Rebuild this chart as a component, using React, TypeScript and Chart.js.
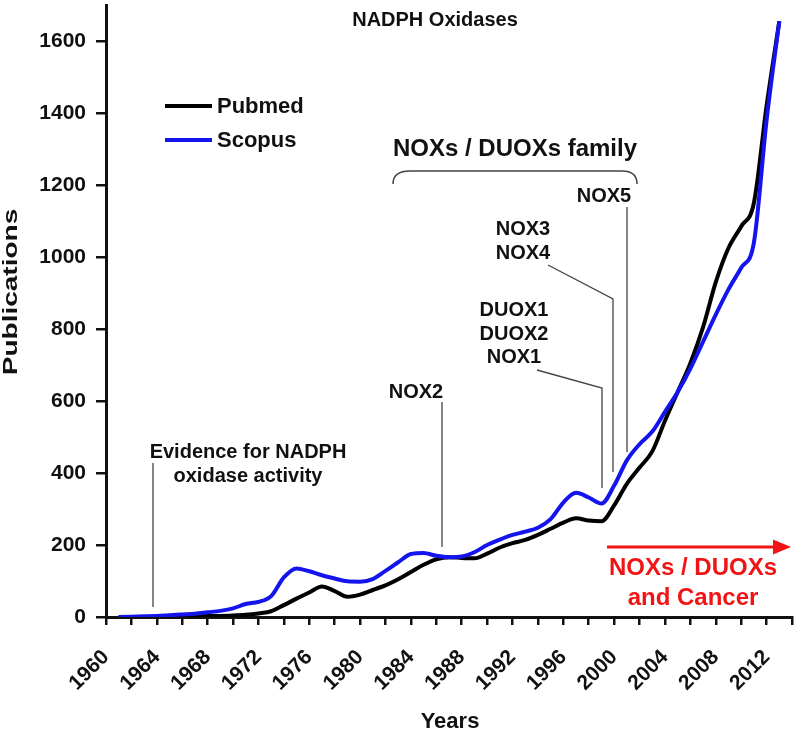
import React, { useEffect, useRef } from 'react';
import { Chart, registerables } from 'chart.js';

Chart.register(...registerables);

// ---- data ----
const years = [
  1961, 1962, 1963, 1964, 1965, 1966, 1967, 1968, 1969, 1970,
  1971, 1972, 1973, 1974, 1975, 1976, 1977, 1978, 1979, 1980,
  1981, 1982, 1983, 1984, 1985, 1986, 1987, 1988, 1989, 1990,
  1991, 1992, 1993, 1994, 1995, 1996, 1997, 1998, 1999, 2000,
  2001, 2002, 2003, 2004, 2005, 2006, 2007, 2008, 2009, 2010,
  2011, 2012, 2013,
];

const pubmed = [
  0, 0, 0, 1, 1, 2, 2, 3, 3, 4,
  6, 10, 16, 33, 51, 68, 85, 72, 56, 62,
  75, 88, 105, 125, 145, 160, 166, 164, 163, 176,
  193, 205, 214, 228, 245, 262, 274, 268, 266, 310,
  370, 415, 460, 545, 625, 705, 805, 930, 1025, 1085,
  1150, 1420, 1655,
];

const scopus = [
  0, 1, 2, 3, 5, 7, 9, 13, 17, 24,
  36, 42, 58, 110, 135, 127, 116, 107, 99, 98,
  105, 128, 152, 175, 178, 170, 166, 168, 180, 200,
  215, 228, 237, 248, 272, 318, 345, 332, 315, 365,
  435, 480, 515, 570, 625, 690, 765, 840, 910, 970,
  1040, 1380, 1655,
];

const xTickValues = [
  1960, 1962, 1964, 1966, 1968, 1970, 1972, 1974, 1976, 1978,
  1980, 1982, 1984, 1986, 1988, 1990, 1992, 1994, 1996, 1998,
  2000, 2002, 2004, 2006, 2008, 2010, 2012, 2014,
];
const xTickLabels = [
  '1960', '1964', '1968', '1972', '1976', '1980', '1984', '1988',
  '1992', '1996', '2000', '2004', '2008', '2012',
];
const yTickValues = [0, 200, 400, 600, 800, 1000, 1200, 1400, 1600];

const seriesNames = ['Pubmed', 'Scopus'];
const seriesColors = ['#000000', '#1414ee'];

const FONT = '"Liberation Sans", Arial, Helvetica, sans-serif';

const overlay = {
  id: 'overlay',
  afterDraw(chart: any) {
    const ctx: CanvasRenderingContext2D = chart.ctx;
    ctx.save();
    const text = (s: string, x: number, y: number, size: number, color = '#111', align: CanvasTextAlign = 'center') => {
      ctx.font = `700 ${size}px ${FONT}`;
      ctx.fillStyle = color;
      ctx.textAlign = align;
      ctx.textBaseline = 'middle';
      ctx.fillText(s, x, y);
    };
    const poly = (pts: number[][], color = '#444', w = 1.3) => {
      ctx.beginPath();
      ctx.strokeStyle = color;
      ctx.lineWidth = w;
      ctx.moveTo(pts[0][0], pts[0][1]);
      for (let i = 1; i < pts.length; i++) ctx.lineTo(pts[i][0], pts[i][1]);
      ctx.stroke();
    };

    // Legend
    seriesNames.forEach((name, i) => {
      const y = 106 + i * 34;
      poly([[165, y], [212, y]], seriesColors[i], 4);
      text(name, 217, y + 1, 22, '#111', 'left');
    });

    // Title
    text('NADPH Oxidases', 435, 20, 20);

    // Axis titles
    ctx.save();
    ctx.translate(17, 292);
    ctx.rotate(-Math.PI / 2);
    ctx.scale(1.4, 1);
    ctx.font = `700 20px ${FONT}`;
    ctx.fillStyle = '#111';
    ctx.textAlign = 'center';
    ctx.textBaseline = 'alphabetic';
    ctx.fillText('Publications', 0, 0);
    ctx.restore();
    text('Years', 450, 722, 22);

    // Family brace
    text('NOXs / DUOXs family', 515, 149, 24);
    ctx.beginPath();
    ctx.strokeStyle = '#444';
    ctx.lineWidth = 1.5;
    ctx.moveTo(393, 184);
    ctx.quadraticCurveTo(393, 171, 410, 171);
    ctx.lineTo(622, 171);
    ctx.quadraticCurveTo(637, 171, 637, 184);
    ctx.stroke();

    // Annotations
    text('NOX5', 604, 196, 20);
    poly([[627, 207], [627, 452]]);
    text('NOX3', 523, 229, 20);
    text('NOX4', 523, 253, 20);
    poly([[548, 265], [613, 299], [613, 472]]);
    text('DUOX1', 514, 310, 20);
    text('DUOX2', 514, 334, 20);
    text('NOX1', 514, 357, 20);
    poly([[537, 370], [602, 388], [602, 488]]);
    text('NOX2', 416, 392, 20);
    poly([[442, 402], [442, 547]]);
    text('Evidence for NADPH', 248, 452, 20);
    text('oxidase activity', 248, 476, 20);
    poly([[153, 463], [153, 607]]);

    // Red arrow
    const red = '#f01414';
    poly([[607, 547], [776, 547]], red, 3);
    ctx.beginPath();
    ctx.fillStyle = red;
    ctx.moveTo(791, 547);
    ctx.lineTo(773, 539.5);
    ctx.lineTo(773, 554.5);
    ctx.closePath();
    ctx.fill();
    text('NOXs / DUOXs', 693, 568, 24, red);
    text('and Cancer', 693, 598, 24, red);

    ctx.restore();
  },
};

export default function App() {
  const canvasRef = useRef<HTMLCanvasElement | null>(null);

  useEffect(() => {
    const canvas = canvasRef.current;
    if (!canvas) return;
    const chart = new Chart(canvas, {
      type: 'line',
      data: {
        datasets: [
          {
            label: seriesNames[0],
            data: years.map((y, i) => ({ x: y, y: pubmed[i] })),
            borderColor: seriesColors[0],
            borderWidth: 4,
            pointRadius: 0,
            cubicInterpolationMode: 'monotone',
            fill: false,
            order: 1,
          },
          {
            label: seriesNames[1],
            data: years.map((y, i) => ({ x: y, y: scopus[i] })),
            borderColor: seriesColors[1],
            borderWidth: 4,
            pointRadius: 0,
            cubicInterpolationMode: 'monotone',
            fill: false,
            order: 0,
          },
        ],
      },
      options: {
        animation: false,
        responsive: false,
        devicePixelRatio: 1,
        layout: { padding: { top: 5, right: 8, left: 0, bottom: 0 } },
        plugins: {
          legend: { display: false },
          title: { display: false },
          tooltip: { enabled: false },
        },
        scales: {
          x: {
            type: 'linear',
            min: 1960,
            max: 2014,
            afterBuildTicks: (scale: any) => {
              scale.ticks = xTickValues.map((v) => ({ value: v }));
            },
            afterFit: (scale: any) => {
              scale.height = 116;
              scale.paddingLeft = 0;
              scale.paddingRight = 0;
            },
            ticks: {
              autoSkip: false,
              minRotation: 45,
              maxRotation: 45,
              padding: 20,
              color: '#111',
              font: { family: FONT, size: 21, weight: 'bold' },
              callback: (v: any) => (xTickLabels.includes(String(v)) ? String(v) : ''),
            },
            grid: {
              drawOnChartArea: false,
              drawTicks: true,
              tickLength: 8,
              color: '#111',
              lineWidth: 2.5,
            },
            border: { display: true, color: '#111', width: 3 },
          },
          y: {
            type: 'linear',
            min: 0,
            max: 1700,
            afterBuildTicks: (scale: any) => {
              scale.ticks = yTickValues.map((v) => ({ value: v }));
            },
            afterFit: (scale: any) => {
              scale.width = 106;
              scale.paddingTop = 0;
              scale.paddingBottom = 0;
            },
            ticks: {
              padding: 10,
              color: '#111',
              font: { family: FONT, size: 21, weight: 'bold' },
              callback: (v: any) => String(v),
            },
            grid: {
              drawOnChartArea: false,
              drawTicks: true,
              tickLength: 10,
              color: '#111',
              lineWidth: 2.5,
            },
            border: { display: true, color: '#111', width: 3 },
          },
        },
      },
      plugins: [overlay],
    } as any);
    return () => chart.destroy();
  }, []);

  return (
    <div style={{ position: 'fixed', left: 0, top: 0, width: 800, height: 733, background: '#fff' }}>
      <canvas ref={canvasRef} width={800} height={733} style={{ display: 'block' }} />
    </div>
  );
}
